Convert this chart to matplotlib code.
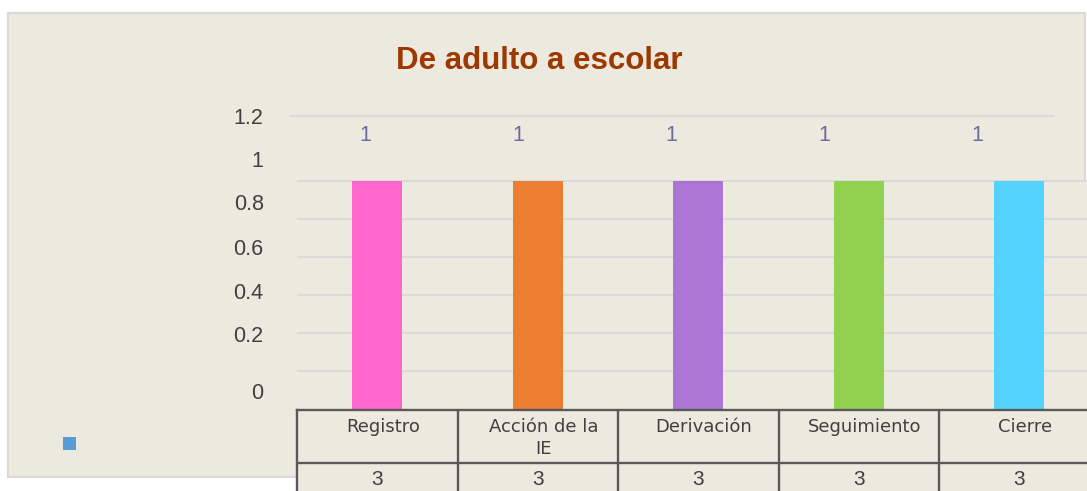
import matplotlib
matplotlib.use('Agg')
import matplotlib.pyplot as plt
from matplotlib.patches import Rectangle
from matplotlib import font_manager

# ---- data ----
categories = ['Registro', 'Acción de la\nIE', 'Derivación', 'Seguimiento', 'Cierre']
values = [1, 1, 1, 1, 1]
table_values = [3, 3, 3, 3, 3]
bar_colors = ['#FF66CC', '#ED7D31', '#AC75D4', '#92D050', '#53D3FF']
title = 'De adulto a escolar'
ytick_labels = ['1.2', '1', '0.8', '0.6', '0.4', '0.2', '0']
# label positions as drawn in the (distorted) source rendering
ytick_pos = [1.2845, 1.096, 0.906, 0.7125, 0.5186, 0.329, 0.081]
grid_levels = [k / 6 for k in range(1, 7)]

plt.rcParams['font.family'] = ['Liberation Sans', 'DejaVu Sans']
names = {f.name for f in font_manager.fontManager.ttflist}
NARROW = 'Liberation Sans Narrow' if 'Liberation Sans Narrow' in names else 'Liberation Sans'
NSIZE = 16.5 if NARROW == 'Liberation Sans Narrow' else 15.5

W, H = 1087, 491
fig = plt.figure(figsize=(W / 100, H / 100), dpi=100)
fig.patch.set_facecolor('white')


def px(x0, y0, x1, y1):
    return [x0 / W, 1 - y1 / H, (x1 - x0) / W, (y1 - y0) / H]


BG = '#ECE9DE'
GRID = '#D9D9D9'
TXT = '#404040'
LINE = '#595959'

# outer panel
r = px(8, 13, 1085, 477)
fig.patches.append(Rectangle((r[0], r[1]), r[2], r[3], transform=fig.transFigure,
                             facecolor=BG, edgecolor=GRID, linewidth=1.5, zorder=-2))
r = px(1081, 182, 1087, 476)
fig.patches.append(Rectangle((r[0], r[1]), r[2], r[3], transform=fig.transFigure,
                             facecolor=BG, edgecolor='none', zorder=-1))

# main axes
ax = fig.add_axes(px(297, 100, 1087, 409.5))
ax.set_facecolor('none')
ax.set_xlim(-0.5, -0.5 + 790 / 160.5)
ax.set_ylim(0, 309.5 / 228.5)
x = list(range(len(categories)))
ax.bar(x, values, width=0.31, color=bar_colors, zorder=3)

ax.set_yticks(grid_levels, minor=True)
ax.yaxis.grid(True, which='minor', color=GRID, linewidth=1.3)
ax.yaxis.grid(False, which='major')
ax.set_yticks(ytick_pos, ytick_labels)
ax.tick_params(axis='y', which='both', length=0)
ax.tick_params(axis='y', which='major', pad=24, labelsize=NSIZE, labelcolor=TXT)
for lab in ax.get_yticklabels():
    lab.set_family([NARROW, 'DejaVu Sans'])
ax.set_xticks([])
for s in ax.spines.values():
    s.set_visible(False)
ax.set_axisbelow(True)
ax.hlines(ytick_pos[0], -0.55, 4.223, color=GRID, linewidth=1.3, clip_on=False)

for i, v in enumerate(values):
    ax.text(-0.076 + i * 0.954, v + 0.2, str(v), ha='center', va='center',
            color='#6B6B9E', fontsize=NSIZE, family=[NARROW, 'DejaVu Sans'])

# data table
tax = fig.add_axes(px(297, 409.5, 1099.5, 495.5))
tax.set_facecolor(BG)
tax.set_xlim(-0.5, len(categories) - 0.5)
tax.set_ylim(0, 1)
tax.set_xticks([])
tax.set_yticks([])
for s in tax.spines.values():
    s.set_color(LINE)
    s.set_linewidth(1.7)
for i in range(len(categories) - 1):
    tax.axvline(i + 0.5, color=LINE, linewidth=1.7)
tax.axhline(33 / 86, color=LINE, linewidth=1.7)
for i, (c, tv) in enumerate(zip(categories, table_values)):
    tax.text(i + 0.035, 0.90, c, ha='center', va='top', fontsize=13,
             family=['DejaVu Sans'], color=TXT, linespacing=1.25)
    tax.text(i, 0.19, str(tv), ha='center', va='center', fontsize=15, color=TXT)

# legend marker
r = px(63, 437, 76, 450)
fig.patches.append(Rectangle((r[0], r[1]), r[2], r[3], transform=fig.transFigure,
                             facecolor='#5B9BD5', edgecolor='none', zorder=1))

# title
fig.text(539 / W, 1 - 69 / H, title, ha='center', va='baseline', fontsize=22.5,
         fontweight='bold', color='#9C3800')

fig.savefig('out.png', dpi=100, facecolor='white')
